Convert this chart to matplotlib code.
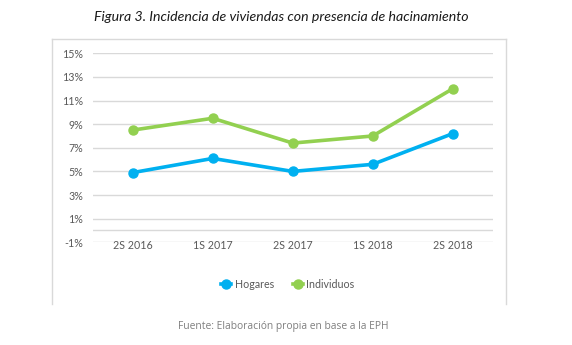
import matplotlib
matplotlib.use("Agg")
import matplotlib.pyplot as plt
from matplotlib.lines import Line2D

categories = ["2S 2016", "1S 2017", "2S 2017", "1S 2018", "2S 2018"]
hogares = [4.9, 6.1, 5.0, 5.6, 8.2]
individuos = [8.5, 9.5, 7.4, 8.0, 12.0]
yticks = [-1, 1, 3, 5, 7, 9, 11, 13, 15]
ytick_labels = [f"{v}%" for v in yticks]

title = "Figura 3. Incidencia de viviendas con presencia de hacinamiento"
footer = "Fuente: Elaboración propia en base a la EPH"

BLUE = "#00B0F0"
GREEN = "#92D050"
GRID = "#D9D9D9"
TXT = "#595959"
FONT = ["Lato", "DejaVu Sans"]

W, H = 572, 345
fig = plt.figure(figsize=(W / 100, H / 100), dpi=100)

def fx(px):
    return px / W

def fy(py):
    return 1 - py / H

ax = fig.add_axes([fx(92.7), fy(242.3), fx(492.7) - fx(92.7), fy(53.3) - fy(242.3)])
ax.set_xlim(-0.5, len(categories) - 0.5)
ax.set_ylim(-1, 15)
for s in ax.spines.values():
    s.set_visible(False)
ax.set_yticks(yticks)
ax.set_yticklabels(ytick_labels, fontfamily=FONT, fontsize=7.7, color=TXT)
ax.tick_params(axis="y", length=0, pad=7)
ax.set_xticks([])
for v in yticks:
    ax.axhline(v, color=GRID, lw=1, zorder=1)
ax.axhline(0, color=GRID, lw=1, zorder=1)

x = list(range(len(categories)))
ax.plot(x, hogares, color=BLUE, lw=2.6, marker="o", ms=6.5, zorder=3,
        solid_capstyle="round")
ax.plot(x, individuos, color=GREEN, lw=2.6, marker="o", ms=6.5, zorder=3,
        solid_capstyle="round")
for i, c in enumerate(categories):
    ax.text(i, -1.25, c, ha="center", va="center", fontfamily=FONT,
            fontsize=7.7, color=TXT, zorder=2)

# chart border (left, top, right)
for xs, ys in [((52, 52), (39, 304)), ((52, 506), (39, 39)), ((506, 506), (39, 304))]:
    fig.add_artist(Line2D([fx(xs[0]), fx(xs[1])], [fy(ys[0]), fy(ys[1])],
                          color="#D9D9D9", lw=1))

handles = [Line2D([], [], color=BLUE, lw=2.6, marker="o", ms=6.5),
           Line2D([], [], color=GREEN, lw=2.6, marker="o", ms=6.5)]
leg = fig.legend(handles, ["Hogares", "Individuos"], loc="center",
                 bbox_to_anchor=(fx(288), fy(284)), ncol=2, frameon=False,
                 handlelength=0.9, handletextpad=0.35, columnspacing=1.8,
                 prop={"family": FONT, "size": 7.7})
for t in leg.get_texts():
    t.set_color(TXT)

fig.text(fx(281), fy(17), title, ha="center", va="center", fontfamily=FONT,
         fontsize=10.2, style="italic", color="#1a1a1a")
fig.text(fx(283), fy(326), footer, ha="center", va="center",
         fontfamily=["Open Sans", "DejaVu Sans"], fontsize=7.4, color="#7f7f7f")

fig.savefig("out.png", dpi=100)
